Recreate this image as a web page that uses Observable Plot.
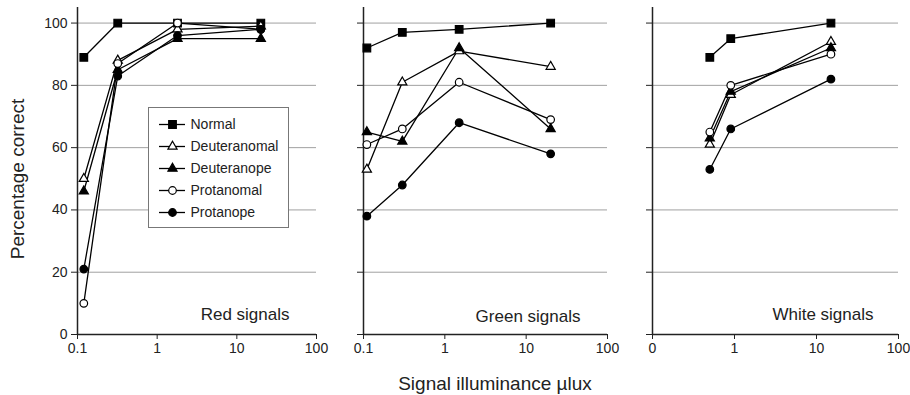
<!DOCTYPE html>
<html>
<head>
<meta charset="utf-8">
<script src="https://cdn.jsdelivr.net/npm/d3@7"></script>
<script src="https://cdn.jsdelivr.net/npm/@observablehq/plot@0.6"></script>
<style>
  body { margin: 0; background: #fff; }
  #chart { position: relative; width: 910px; height: 395px; overflow: hidden;
           font-family: "Liberation Sans", Arial, Helvetica, sans-serif; color: #222; }
  #chart > svg, #chart > div { position: absolute; }
  .ttl { white-space: nowrap; line-height: 1; font-size: 19px; color: #222; }
</style>
</head>
<body>
<div id="chart"></div>
<script>
// ---------- data ----------
const series = ["Normal", "Deuteranomal", "Deuteranope", "Protanomal", "Protanope"];
const symbols = ["square", "triangle", "triangle", "circle", "circle"];
const fills = ["black", "white", "black", "white", "black"];

const redX = [0.12, 0.32, 1.8, 20];
const redNormal       = [89, 100, 100, 100];
const redDeuteranomal = [50, 88, 98, 99];
const redDeuteranope  = [46, 85, 95, 95];
const redProtanomal   = [10, 87, 100, 98];
const redProtanope    = [21, 83, 96, 98];

const greenX = [0.11, 0.3, 1.5, 20];
const greenNormal       = [92, 97, 98, 100];
const greenDeuteranomal = [53, 81, 91, 86];
const greenDeuteranope  = [65, 62, 92, 66];
const greenProtanomal   = [61, 66, 81, 69];
const greenProtanope    = [38, 48, 68, 58];

const whiteX = [0.5, 0.9, 15];
const whiteNormal       = [89, 95, 100];
const whiteDeuteranomal = [61, 77, 94];
const whiteDeuteranope  = [63, 78, 92];
const whiteProtanomal   = [65, 80, 90];
const whiteProtanope    = [53, 66, 82];

const yTicks = [0, 20, 40, 60, 80, 100];
const gridValues = [20, 40, 60, 80, 100];
const xTicks = [0.1, 1, 10, 100];
const xTickLabelsLog = ["0.1", "1", "10", "100"];
const xTickLabelsWhite = ["0", "1", "10", "100"];
const panelTitles = ["Red signals", "Green signals", "White signals"];
const yTitle = "Percentage correct";
const xTitle = "Signal illuminance \u00B5lux";

// ---------- helpers ----------
function rows(xs, valueArrays) {
  return series.flatMap((s, i) => xs.map((x, j) => ({ series: s, x, y: valueArrays[i][j] })));
}
const redData = rows(redX, [redNormal, redDeuteranomal, redDeuteranope, redProtanomal, redProtanope]);
const greenData = rows(greenX, [greenNormal, greenDeuteranomal, greenDeuteranope, greenProtanomal, greenProtanope]);
const whiteData = rows(whiteX, [whiteNormal, whiteDeuteranomal, whiteDeuteranope, whiteProtanomal, whiteProtanope]);

const radii = { square: 4.3, triangle: 3.4, circle: 3.8 };

function panel({ data, width, marginLeft, marginRight, labels, title, showY, dx, dy }) {
  const marks = [
    Plot.ruleY(gridValues, { stroke: "#a0a0a0", strokeWidth: 1 }),
    Plot.ruleY([0], { stroke: "#222", strokeWidth: 1.5 }),
    Plot.ruleX([0.1], { stroke: "#222", strokeWidth: 1.5 }),
    Plot.axisY({ ticks: yTicks, tickSize: 6, tickPadding: 4, fontSize: 14, label: null,
                 tickFormat: showY ? (d => String(d)) : (() => "") }),
    Plot.axisX({ ticks: xTicks, tickSize: 5, tickPadding: 4, fontSize: 14, label: null,
                 tickFormat: d => labels[xTicks.indexOf(d)] }),
    Plot.line(data, { x: "x", y: "y", z: "series", stroke: "black", strokeWidth: 1.3 }),
    ...series.map((s, i) => Plot.dot(data.filter(d => d.series === s), {
      x: "x", y: "y", symbol: symbols[i], r: radii[symbols[i]],
      fill: fills[i], stroke: "black", strokeWidth: 1.2
    })),
    Plot.text([title], { frameAnchor: "bottom-right", textAnchor: "end", lineAnchor: "bottom",
                         dx, dy, fontSize: 17, fill: "#222" })
  ];
  return Plot.plot({
    width, height: 360,
    marginLeft, marginRight, marginTop: 7, marginBottom: 26,
    x: { type: "log", domain: [0.1, 100], label: null },
    y: { domain: [0, 105], label: null },
    style: { fontFamily: "Liberation Sans, Arial, sans-serif", color: "#222", overflow: "visible", background: "transparent" },
    marks
  });
}

const chart = document.getElementById("chart");

const p1 = panel({ data: redData, width: 330, marginLeft: 77, marginRight: 14, labels: xTickLabelsLog,
                   title: panelTitles[0], showY: true, dx: -27, dy: -15 });
p1.style.left = "0px"; p1.style.top = "0px";
chart.appendChild(p1);

const p2 = panel({ data: greenData, width: 280, marginLeft: 23, marginRight: 13, labels: xTickLabelsLog,
                   title: panelTitles[1], showY: false, dx: -27, dy: -12.5 });
p2.style.left = "340px"; p2.style.top = "0px";
chart.appendChild(p2);

const p3 = panel({ data: whiteData, width: 280, marginLeft: 22, marginRight: 12, labels: xTickLabelsWhite,
                   title: panelTitles[2], showY: false, dx: -25, dy: -15 });
p3.style.left = "630px"; p3.style.top = "0px";
chart.appendChild(p3);

// legend
const legendMarks = [
  Plot.ruleY(series, { y: d => d, x1: 0, x2: 1, stroke: "black", strokeWidth: 1.3 }),
  ...series.map((s, i) => Plot.dot([s], { y: d => d, x: 0.5, symbol: symbols[i], r: radii[symbols[i]],
                                          fill: fills[i], stroke: "black", strokeWidth: 1.2 })),
  Plot.text(series, { y: d => d, x: 1, text: d => d, dx: 5, textAnchor: "start", fontSize: 14, fill: "#222" })
];
const legend = Plot.plot({
  width: 139, height: 119,
  marginLeft: 10, marginRight: 103, marginTop: 16, marginBottom: 15,
  x: { domain: [0, 1], axis: null },
  y: { type: "point", domain: series, padding: 0, axis: null },
  style: { fontFamily: "Liberation Sans, Arial, sans-serif", background: "white", overflow: "visible" },
  marks: legendMarks
});
legend.style.left = "148px"; legend.style.top = "107px";
legend.style.border = "1.3px solid #777";
chart.appendChild(legend);

// axis titles
const yt = document.createElement("div");
yt.className = "ttl";
yt.textContent = yTitle;
yt.style.left = "17px"; yt.style.top = "179px";
yt.style.transform = "translate(-50%, -50%) rotate(-90deg)";
chart.appendChild(yt);

const xt = document.createElement("div");
xt.className = "ttl";
xt.textContent = xTitle;
xt.style.left = "495px"; xt.style.top = "374px";
xt.style.transform = "translateX(-50%)";
chart.appendChild(xt);
</script>
</body>
</html>
